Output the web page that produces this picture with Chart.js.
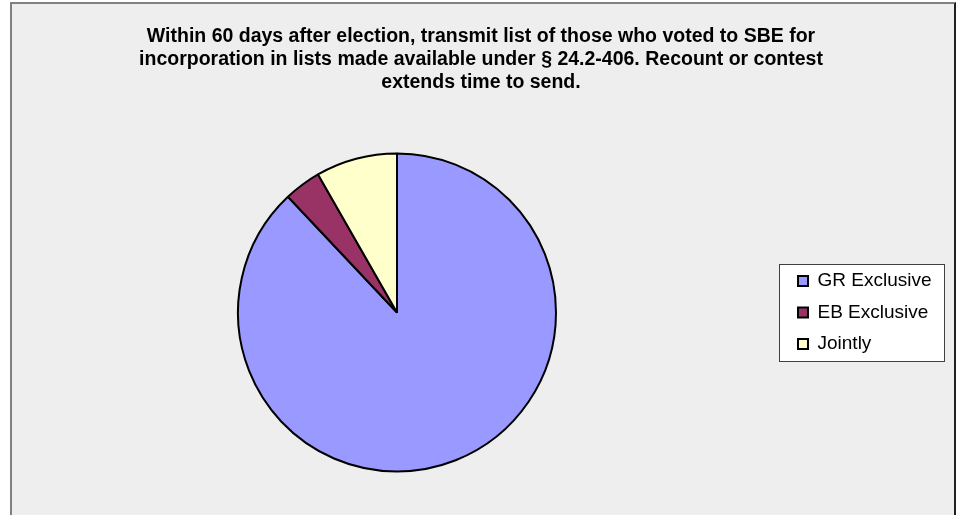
<!DOCTYPE html>
<html>
<head>
<meta charset="utf-8">
<script src="https://cdn.jsdelivr.net/npm/chart.js@4/dist/chart.umd.min.js"></script>
<style>
  html, body { margin: 0; padding: 0; background: #ffffff; overflow: hidden; }
  #frame {
    position: absolute; left: 10px; top: 2px; width: 942px; height: 600px;
    background: #eeeeee; border: 2px solid #808080; border-right-color: #202020;
  }
  #chartCanvas { position: absolute; left: 0; top: 0; }
</style>
</head>
<body>
<div id="frame"></div>
<canvas id="chartCanvas" width="958" height="515"></canvas>
<script>
// data
var titleLines = [
    "Within 60 days after election, transmit list of those who voted to SBE for",
    "incorporation in lists made available under \u00a7 24.2-406. Recount or contest",
    "extends time to send."
];
var sliceLabels = ["GR Exclusive", "EB Exclusive", "Jointly"];
var sliceCounts = [117, 5, 11];
var sliceColors = ["#9999FF", "#993366", "#FFFFCC"];

var LEGEND_PAD = 12.5;

// force the legend column width so the pie sits left of the title centre
var legendWidthPlugin = {
    id: 'legendWidth',
    beforeLayout: function (chart) {
        var legend = chart.legend;
        if (legend && !legend._fitWrapped) {
            var fit = legend.fit;
            legend.fit = function () {
                fit.call(this);
                this.width = 168;
            };
            legend._fitWrapped = true;
        }
    }
};

// white box with a thin border behind the legend items
var legendBoxPlugin = {
    id: 'legendBox',
    beforeDraw: function (chart) {
        var lg = chart.legend;
        var ctx = chart.ctx;
        var x = lg.left + LEGEND_PAD - 19;
        var cy = (lg.top + lg.bottom) / 2;
        var h = 97;
        ctx.save();
        ctx.fillStyle = "#ffffff";
        ctx.fillRect(x, cy - h / 2, 165, h);
        ctx.strokeStyle = "#404040";
        ctx.lineWidth = 1;
        ctx.strokeRect(Math.round(x) + 0.5, Math.round(cy - h / 2) + 0.5, 165, h);
        ctx.restore();
    }
};

var ctx = document.getElementById("chartCanvas").getContext("2d");
new Chart(ctx, {
    type: 'pie',
    data: {
        labels: sliceLabels,
        datasets: [{
            data: sliceCounts,
            backgroundColor: sliceColors,
            borderColor: "#000000",
            borderWidth: 2
        }]
    },
    options: {
        responsive: false,
        animation: false,
        radius: 159,
        layout: { padding: { left: 8.5, right: 4.5, top: 0, bottom: 0 } },
        plugins: {
            title: {
                display: true,
                text: titleLines,
                color: "#000000",
                font: { family: "'Liberation Sans', Arial, sans-serif", size: 19.5, weight: 'bold', lineHeight: '23px' },
                padding: { top: 25, bottom: 16 }
            },
            legend: {
                display: true,
                position: 'right',
                fullSize: false,
                align: 'center',
                labels: {
                    color: "#000000",
                    boxWidth: 10,
                    boxHeight: 10,
                    padding: LEGEND_PAD,
                    font: { family: "'Liberation Sans', Arial, sans-serif", size: 19 }
                }
            },
            tooltip: { enabled: false }
        }
    },
    plugins: [legendWidthPlugin, legendBoxPlugin]
});
</script>
</body>
</html>
